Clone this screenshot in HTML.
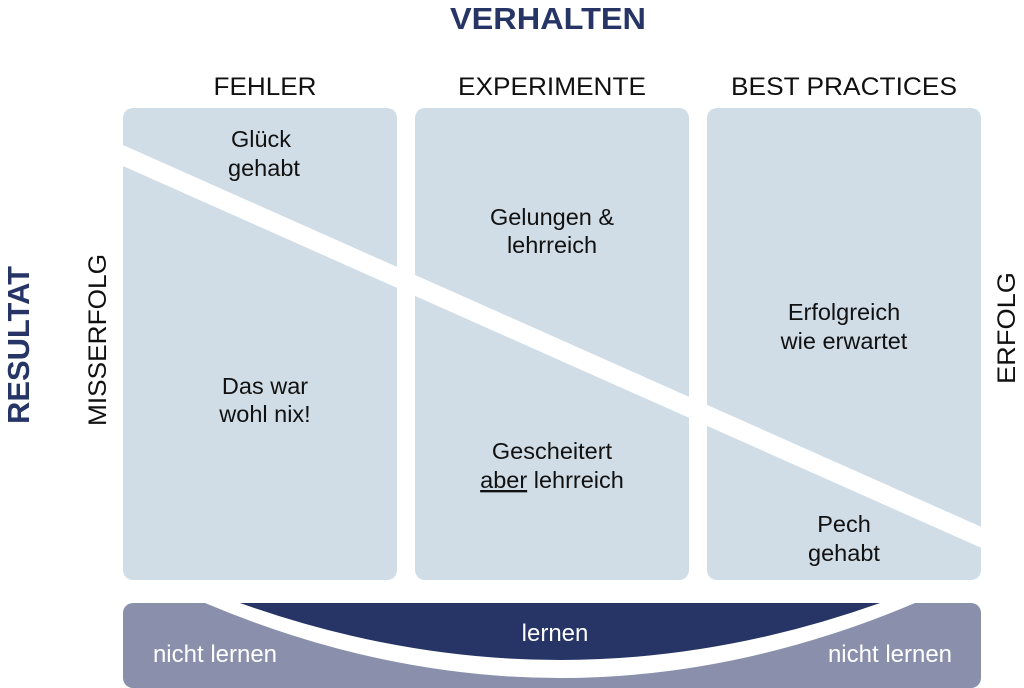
<!DOCTYPE html>
<html><head><meta charset="utf-8"><style>
html,body{margin:0;padding:0;background:#fff;width:1024px;height:688px;overflow:hidden}
svg{display:block}
text{font-family:"Liberation Sans",Arial,sans-serif}
</style></head><body>
<svg width="1024" height="688" viewBox="0 0 1024 688" xmlns="http://www.w3.org/2000/svg">
<rect x="123" y="108" width="274" height="472" rx="10" fill="#d0dde7"/>
<rect x="415" y="108" width="274" height="472" rx="10" fill="#d0dde7"/>
<rect x="707" y="108" width="274" height="472" rx="10" fill="#d0dde7"/>
<polygon points="110,139.2 995,533 995,554 110,160.2" fill="#fff"/>
<rect x="123" y="603" width="858" height="85" rx="10" fill="#8a90ab"/>
<path d="M205,603 Q560,753 915,603 Z" fill="#fff"/>
<path d="M240,603 Q560,717 880,603 Z" fill="#263566"/>
<text x="548" y="29" font-size="31" font-weight="bold" fill="#263566" text-anchor="middle" textLength="196" lengthAdjust="spacingAndGlyphs">VERHALTEN</text>
<text x="265" y="95" font-size="25" fill="#111" text-anchor="middle" textLength="103" lengthAdjust="spacingAndGlyphs">FEHLER</text>
<text x="552" y="95" font-size="25" fill="#111" text-anchor="middle" textLength="188" lengthAdjust="spacingAndGlyphs">EXPERIMENTE</text>
<text x="844" y="95" font-size="25" fill="#111" text-anchor="middle" textLength="226" lengthAdjust="spacingAndGlyphs">BEST PRACTICES</text>
<text transform="translate(29,345) rotate(-90)" font-size="31" font-weight="bold" fill="#263566" text-anchor="middle" textLength="158" lengthAdjust="spacingAndGlyphs">RESULTAT</text>
<text transform="translate(106,340) rotate(-90)" font-size="25" fill="#111" text-anchor="middle" textLength="172" lengthAdjust="spacingAndGlyphs">MISSERFOLG</text>
<text transform="translate(1015,328) rotate(-90)" font-size="25" fill="#111" text-anchor="middle" textLength="112" lengthAdjust="spacingAndGlyphs">ERFOLG</text>
<g font-size="23.5" fill="#111" text-anchor="middle">
<text x="261" y="147">Glück</text>
<text x="264" y="176">gehabt</text>
<text x="552" y="225">Gelungen &amp;</text>
<text x="552" y="253">lehrreich</text>
<text x="844" y="320">Erfolgreich</text>
<text x="844" y="349">wie erwartet</text>
<text x="265" y="394">Das war</text>
<text x="265" y="422">wohl nix!</text>
<text x="552" y="459">Gescheitert</text>
<text x="552" y="488"><tspan text-decoration="underline">aber</tspan> lehrreich</text>
<text x="844" y="532">Pech</text>
<text x="844" y="561">gehabt</text>
</g>
<g font-size="24" fill="#fff" text-anchor="middle">
<text x="555" y="641">lernen</text>
<text x="215" y="662">nicht lernen</text>
<text x="890" y="662">nicht lernen</text>
</g>
</svg>
</body></html>
